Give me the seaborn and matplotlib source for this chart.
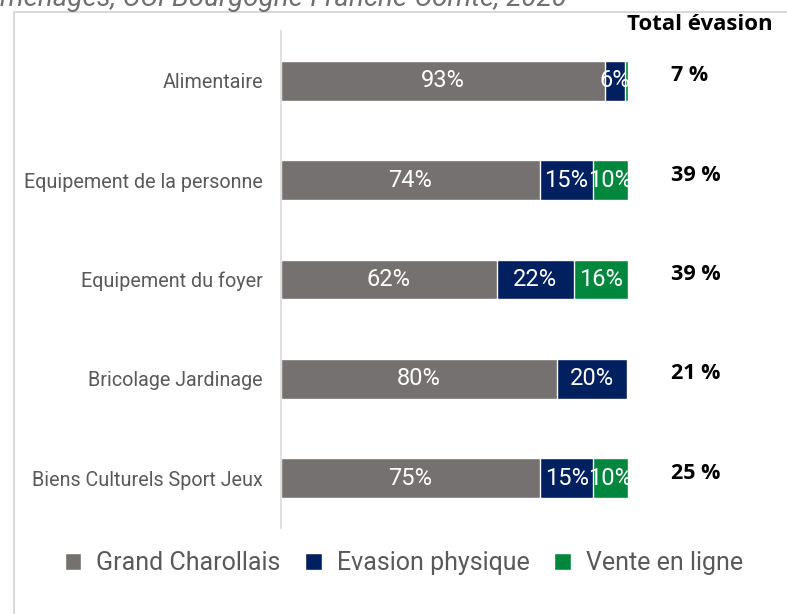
import pandas as pd
import matplotlib
matplotlib.use("Agg")
import matplotlib.pyplot as plt
from matplotlib.patches import Rectangle
import seaborn as sns

# Data
categories = ["Alimentaire", "Equipement de la personne", "Equipement du foyer",
              "Bricolage Jardinage", "Biens Culturels Sport Jeux"]
grand_charollais = [93.5, 74.6, 62.2, 79.6, 74.7]
evasion_physique = [5.5, 15.3, 22.2, 20.1, 15.2]
vente_en_ligne = [1.0, 10.1, 15.6, 0.3, 10.1]
labels_gc = ["93%", "74%", "62%", "80%", "75%"]
labels_ep = ["6%", "15%", "22%", "20%", "15%"]
labels_vl = ["", "10%", "16%", "", "10%"]
total_evasion = ["7 %", "39 %", "39 %", "21 %", "25 %"]
series_names = ["Grand Charollais", "Evasion physique", "Vente en ligne"]

GREY = "#767171"
NAVY = "#002060"
GREEN = "#00873E"
TEXT = "#595959"

sns.set_theme(style="white")
plt.rcParams["font.family"] = ["Roboto", "DejaVu Sans"]

df = pd.DataFrame({
    "cat": categories,
    "gc": grand_charollais,
    "ep": evasion_physique,
    "vl": vente_en_ligne,
})
df["cum_ep"] = df["gc"] + df["ep"]
df["cum_vl"] = df["cum_ep"] + df["vl"]

fig = plt.figure(figsize=(7.87, 6.14), dpi=100)
ax = fig.add_axes([281 / 787, 1 - 528 / 614, (628 - 281) / 787, (528 - 31) / 614])

# stacked bars: draw the running totals from the back to the front
sns.barplot(data=df, x="cum_vl", y="cat", color=GREEN, width=0.4, saturation=1,
            orient="h", ax=ax, order=categories)
sns.barplot(data=df, x="cum_ep", y="cat", color=NAVY, width=0.4, saturation=1,
            orient="h", ax=ax, order=categories)
sns.barplot(data=df, x="gc", y="cat", color=GREY, width=0.4, saturation=1,
            orient="h", ax=ax, order=categories)

ax.set_xlim(0, 100)
ax.set_ylim(4.5, -0.5)
ax.set_xlabel("")
ax.set_ylabel("")
ax.set_xticks([])
for side in ["top", "right", "bottom"]:
    ax.spines[side].set_visible(False)
ax.spines["left"].set_color("#D9D9D9")
ax.spines["left"].set_linewidth(1.2)
ax.tick_params(axis="y", length=0, pad=13)
for t in ax.get_yticklabels():
    t.set_color(TEXT)
    t.set_fontsize(14.2)

# segment labels
for i in range(len(categories)):
    segs = [
        (0, grand_charollais[i], labels_gc[i]),
        (grand_charollais[i], evasion_physique[i], labels_ep[i]),
        (grand_charollais[i] + evasion_physique[i], vente_en_ligne[i], labels_vl[i]),
    ]
    for left, w, lab in segs:
        if lab:
            ax.text(left + w / 2, i, lab, ha="center", va="center",
                    color="white", fontsize=17)
    ax.text(112.3, i - 0.05, total_evasion[i], ha="left", va="center",
            fontsize=15.5, fontweight="bold", color="black",
            family=["Open Sans", "DejaVu Sans"], clip_on=False)

ax.text(120.7, -0.57, "Total évasion", ha="center", va="center",
        fontsize=16, fontweight="bold", color="black",
        family=["Open Sans", "DejaVu Sans"], clip_on=False)

# legend
handles = [ax.containers[2], ax.containers[1], ax.containers[0]]
fig.legend(handles, series_names, loc="center", bbox_to_anchor=(0.513, 1 - 563 / 614),
           ncol=3, frameon=False, fontsize=18, labelcolor=TEXT,
           handlelength=0.65, handleheight=0.65, handletextpad=0.6, columnspacing=1.0)

# frame around the chart area (cut off on the right and bottom)
fig.add_artist(Rectangle((14 / 787, -0.2), 1.2, 1.2 - 12 / 614, transform=fig.transFigure,
                         fill=False, edgecolor="#D9D9D9", linewidth=1.5, clip_on=False))

# cut-off source line at the very top
fig.text(0.0, 1 - 6 / 614, "ménages, CCI Bourgogne-Franche-Comté, 2020",
         ha="left", va="baseline", fontsize=20, style="italic", color="#6F6F6F")

fig.savefig("out.png", dpi=100)
